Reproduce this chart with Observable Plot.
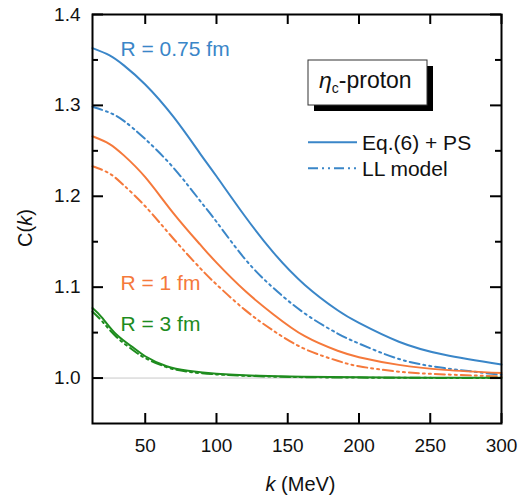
<!DOCTYPE html>
<html><head><meta charset="utf-8">
<script src="https://cdn.jsdelivr.net/npm/d3@7"></script>
<script src="https://cdn.jsdelivr.net/npm/@observablehq/plot@0.6"></script>
<style>
html,body{margin:0;padding:0;background:#fff;}
svg{display:block;font-family:"Liberation Sans",Arial,sans-serif;}
</style></head><body><div id="chart"></div>
<script>
// ---- data ----
const kGrid = [13, 25, 35, 50, 70, 88.5, 100, 120, 140, 162, 185, 200, 228, 260, 300];
const blueEq = [1.363, 1.355, 1.344, 1.323, 1.287, 1.247, 1.222, 1.178, 1.138, 1.1025, 1.0746, 1.0607, 1.040, 1.0256, 1.0148];
const blueLL = [1.2985, 1.292, 1.283, 1.263, 1.231, 1.195, 1.172, 1.131, 1.099, 1.071, 1.049, 1.038, 1.021, 1.011, 1.0035];
const orangeEq = [1.266, 1.2575, 1.245, 1.221, 1.181, 1.147, 1.127, 1.096, 1.070, 1.046, 1.030, 1.023, 1.0145, 1.009, 1.0055];
const orangeLL = [1.233, 1.225, 1.212, 1.189, 1.153, 1.121, 1.103, 1.075, 1.052, 1.032, 1.019, 1.013, 1.007, 1.004, 1.0018];
const kGreen = [13, 20, 30, 42, 50, 65, 80, 100, 130, 160, 200, 250, 300];
const greenEq = [1.077, 1.066, 1.0476, 1.033, 1.024, 1.013, 1.008, 1.0047, 1.0025, 1.0015, 1.0008, 1.0004, 1.0002];
const greenLL = [1.073, 1.062, 1.045, 1.030, 1.022, 1.012, 1.007, 1.004, 1.002, 1.001, 1.0005, 1.0002, 1.0];

const seriesNames = ["R = 0.75 fm", "R = 1 fm", "R = 3 fm"];
const modelNames = ["Eq.(6) + PS", "LL model"];
const systemName = ["η", "c", "-proton"];
const xTicks = [50, 100, 150, 200, 250, 300];
const yMajor = [1.0, 1.1, 1.2, 1.3, 1.4];
const yMinor = [1.05, 1.15, 1.25, 1.35];
const xLabel = ["k", " (MeV)"];
const yLabel = ["C(", "k", ")"];

// ---- styles / layout ----
const colors = ["#3a86c8", "#f5793b", "#1e8c1e"];
const W = 520, H = 495, mL = 92, mR = 19, mT = 14, mB = 72;
const plotW = W - mL - mR, plotH = H - mT - mB;
const dashDot = "10,4,2,4,2,4";

const rows = (ks, vals, R) => ks.map((k, i) => ({k, C: vals[i], R}));
const solidRows = [
  ...rows(kGrid, blueEq, seriesNames[0]),
  ...rows(kGrid, orangeEq, seriesNames[1]),
  ...rows(kGreen, greenEq, seriesNames[2])
];
const dashRows = [
  ...rows(kGrid, blueLL, seriesNames[0]),
  ...rows(kGrid, orangeLL, seriesNames[1]),
  ...rows(kGreen, greenLL, seriesNames[2])
];

const labelOffsets = [{dx: 28, dy: 27}, {dx: 28, dy: 260.5}, {dx: 28, dy: 302}];

const chart = Plot.plot({
  width: W, height: H,
  marginLeft: mL, marginRight: mR, marginTop: mT, marginBottom: mB,
  style: {fontFamily: '"Liberation Sans", Arial, sans-serif', background: "#fff"},
  x: {domain: [13, 300], axis: null},
  y: {domain: [0.95, 1.4], axis: null},
  color: {domain: seriesNames, range: colors},
  marks: [
    Plot.ruleY([1], {stroke: "#c8c8c8", strokeWidth: 1}),
    Plot.line(dashRows, {x: "k", y: "C", z: "R", stroke: "R", strokeWidth: 2, strokeDasharray: dashDot, curve: "natural"}),
    Plot.line(solidRows, {x: "k", y: "C", z: "R", stroke: "R", strokeWidth: 2, curve: "natural"}),
    // inward ticks
    Plot.tickY(yMajor, {y: d => d, stroke: "black", strokeWidth: 2, insetRight: plotW - 11}),
    Plot.tickY(yMajor, {y: d => d, stroke: "black", strokeWidth: 2, insetLeft: plotW - 11}),
    Plot.tickY(yMinor, {y: d => d, stroke: "black", strokeWidth: 2, insetRight: plotW - 6}),
    Plot.tickY(yMinor, {y: d => d, stroke: "black", strokeWidth: 2, insetLeft: plotW - 6}),
    Plot.tickX(xTicks, {x: d => d, stroke: "black", strokeWidth: 2, insetTop: plotH - 10}),
    Plot.tickX(xTicks, {x: d => d, stroke: "black", strokeWidth: 2, insetBottom: plotH - 10}),
    Plot.frame({stroke: "black", strokeWidth: 2}),
    Plot.axisY(yMajor, {tickSize: 0, tickPadding: 12, tickFormat: d3.format(".1f"), fontSize: 19, fill: "#111", label: null}),
    Plot.axisX(xTicks, {tickSize: 0, tickPadding: 15, fontSize: 19, fill: "#111", label: null}),
    ...seriesNames.map((s, i) => Plot.text([s], {
      text: d => d, frameAnchor: "top-left", textAnchor: "start", lineAnchor: "top",
      dx: labelOffsets[i].dx, dy: labelOffsets[i].dy, fill: colors[i], fontSize: 21
    }))
  ]
});
document.getElementById("chart").appendChild(chart);

// ---- legend box and axis titles ----
const svg = d3.select(chart);
const g = svg.append("g").attr("font-size", 21).attr("fill", "#111").attr("text-anchor", "start");
const bx = mL + 216, by = 60, bw = 119, bh = 45;
g.append("rect").attr("x", bx + 6).attr("y", by + 6).attr("width", bw).attr("height", bh).attr("fill", "black");
g.append("rect").attr("x", bx).attr("y", by).attr("width", bw).attr("height", bh).attr("fill", "white").attr("stroke", "#333").attr("stroke-width", 1);
const t = g.append("text").attr("x", bx + 11).attr("y", by + 28).attr("font-size", 23);
t.append("tspan").attr("font-style", "italic").text(systemName[0]);
t.append("tspan").attr("font-size", 14).attr("dy", 5).text(systemName[1]);
t.append("tspan").attr("dy", -5).text(systemName[2]);

modelNames.forEach((m, i) => {
  const y = 142.3 + i * 26;
  g.append("line").attr("x1", mL + 216).attr("x2", mL + 265).attr("y1", y).attr("y2", y)
    .attr("stroke", colors[0]).attr("stroke-width", 2).attr("stroke-dasharray", i ? dashDot : null);
  g.append("text").attr("x", mL + 270).attr("y", y + 7.5).text(m);
});

const xl = g.append("text").attr("x", mL + plotW / 2 + 4).attr("y", 490.5).attr("text-anchor", "middle").attr("font-size", 20);
xl.append("tspan").attr("font-style", "italic").text(xLabel[0]);
xl.append("tspan").text(xLabel[1]);
const yl = g.append("text").attr("transform", "translate(32,228) rotate(-90)").attr("text-anchor", "middle").attr("font-size", 20);
yl.append("tspan").text(yLabel[0]);
yl.append("tspan").attr("font-style", "italic").text(yLabel[1]);
yl.append("tspan").text(yLabel[2]);
</script></body></html>
